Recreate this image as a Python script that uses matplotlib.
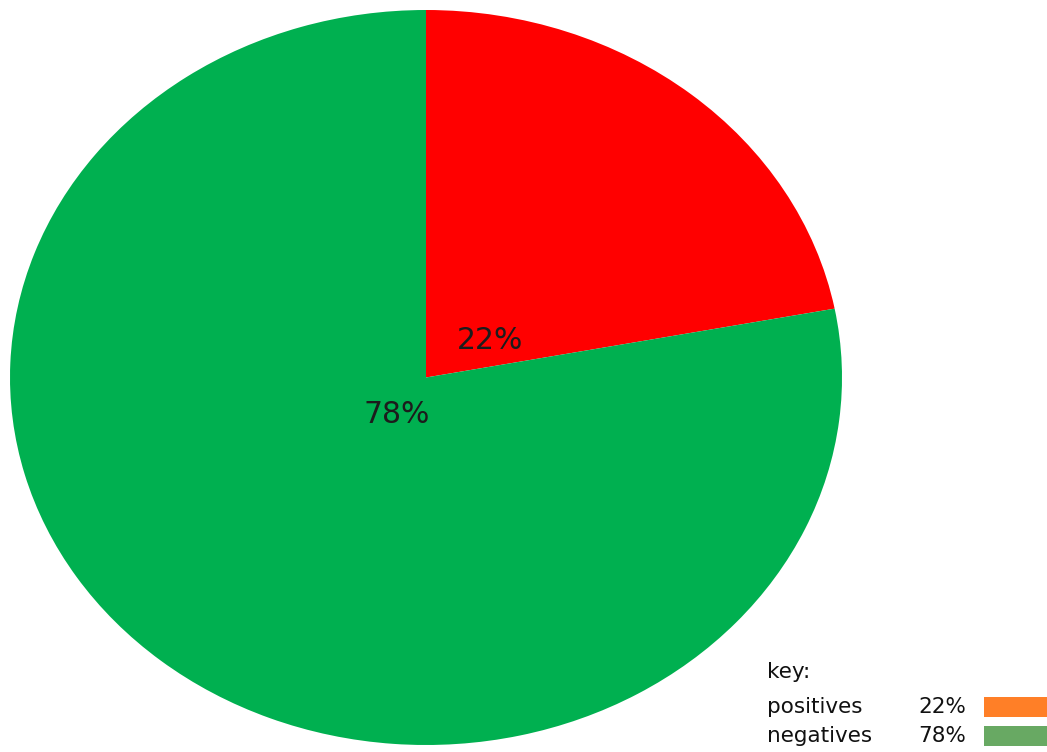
import matplotlib.pyplot as plt
from matplotlib.patches import Rectangle

labels = ['positives', 'negatives']
shares = [22, 78]
pie_colors = ['#FF0000', '#00B050']
key_colors = ['#FF7F27', '#68A963']

W, H = 1047, 752
fig = plt.figure(figsize=(W / 100, H / 100), dpi=100)
fig.patch.set_facecolor('white')

# the pie is stretched a bit wider than tall, so let the axes set the shape
ax = fig.add_axes([10 / W, 7 / H, 832 / W, 735 / H])
wedges, _ = ax.pie(shares, colors=pie_colors, startangle=90, counterclock=False,
                   radius=1, wedgeprops=dict(linewidth=0))
ax.set_xlim(-1, 1)
ax.set_ylim(-1, 1)
ax.set_aspect('auto')
ax.axis('off')

# percentage labels, placed near the centre
label_pos = [(0.155, 0.10), (-0.07, -0.10)]
for (x, y), s in zip(label_pos, shares):
    ax.text(x, y, f'{s}%', ha='center', va='center', fontsize=21.5,
            color='#1c1c1c', family='DejaVu Sans')

# key in the lower right corner
font = dict(fontsize=15.5, family='DejaVu Sans', va='baseline', color='#111111')
fig.text(767 / W, 1 - 678 / H, 'key:', ha='left', **font)
baselines = [713, 742]
for lab, s, c, yb in zip(labels, shares, key_colors, baselines):
    fig.text(767 / W, 1 - yb / H, lab, ha='left', **font)
    fig.text(966 / W, 1 - yb / H, f'{s}%', ha='right', **font)
    fig.patches.append(Rectangle((984 / W, 1 - (yb + 4) / H), 63 / W, 20 / H,
                                 transform=fig.transFigure, facecolor=c,
                                 edgecolor='none'))

fig.savefig('out.png', dpi=100)
